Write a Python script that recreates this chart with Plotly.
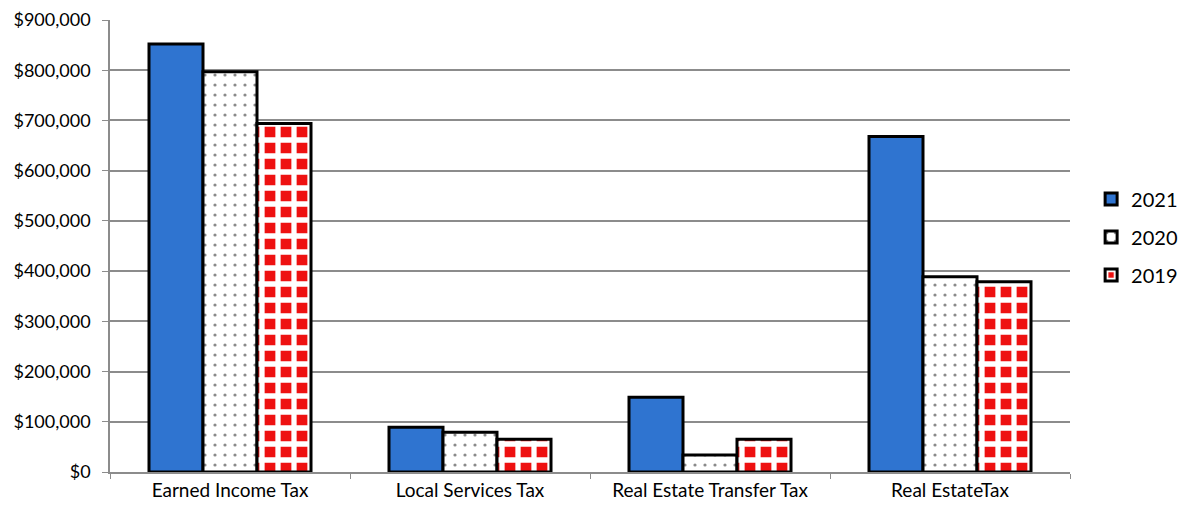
import plotly.graph_objects as go

categories = ["Earned Income Tax", "Local Services Tax", "Real Estate Transfer Tax", "Real EstateTax"]
years = ["2021", "2020", "2019"]
v2021 = [852000, 89000, 149000, 668000]
v2020 = [797000, 79000, 34000, 389000]
v2019 = [694000, 65000, 65000, 379000]
tick_vals = [0, 100000, 200000, 300000, 400000, 500000, 600000, 700000, 800000, 900000]
tick_text = ["$0", "$100,000", "$200,000", "$300,000", "$400,000", "$500,000",
             "$600,000", "$700,000", "$800,000", "$900,000"]

fig = go.Figure()
fig.add_trace(go.Bar(
    name=years[0], x=categories, y=v2021, legendgroup="a",
    marker=dict(color="#2f74d0", line=dict(color="black", width=3)),
))
fig.add_trace(go.Bar(
    name=years[1], x=categories, y=v2020, legendgroup="b",
    marker=dict(color="white", line=dict(color="black", width=3),
                pattern=dict(shape=".", fgcolor="#8a8a8a", bgcolor="white",
                             size=10, solidity=0.08, fgopacity=1)),
))
fig.add_trace(go.Bar(
    name=years[2], x=categories, y=v2019, legendgroup="c",
    marker=dict(color="#ee1111", line=dict(color="black", width=3),
                pattern=dict(shape="+", fgcolor="white", bgcolor="#ee1111",
                             size=16, solidity=0.55, fgopacity=1)),
))

fig.update_layout(
    width=1180, height=503,
    margin=dict(l=102, r=118, t=12, b=39, autoexpand=False),
    paper_bgcolor="white", plot_bgcolor="white",
    barmode="group", bargap=0.325, bargroupgap=0,
    font=dict(family="Lato, Open Sans, sans-serif", size=18, color="black"),
    legend=dict(x=1.022, y=0.52, xanchor="left", yanchor="middle",
                font=dict(size=20), itemwidth=30, tracegroupgap=9),
    showlegend=True,
)
fig.update_yaxes(
    range=[0, 900000], tickvals=tick_vals, ticktext=tick_text,
    showgrid=True, gridcolor="#8c8c8c", gridwidth=1.5,
    showline=True, linecolor="#8c8c8c", linewidth=1.5,
    ticks="outside", ticklen=6, tickcolor="#8c8c8c",
    zeroline=False, ticklabelstandoff=8, tickfont=dict(size=18),
    ticklabeloverflow="allow",
)
fig.update_xaxes(
    showline=True, linecolor="#8c8c8c", linewidth=1.5,
    ticks="outside", tickson="boundaries", ticklen=5, tickcolor="#8c8c8c",
    tickfont=dict(size=19),
)
fig.write_html("out.html")
